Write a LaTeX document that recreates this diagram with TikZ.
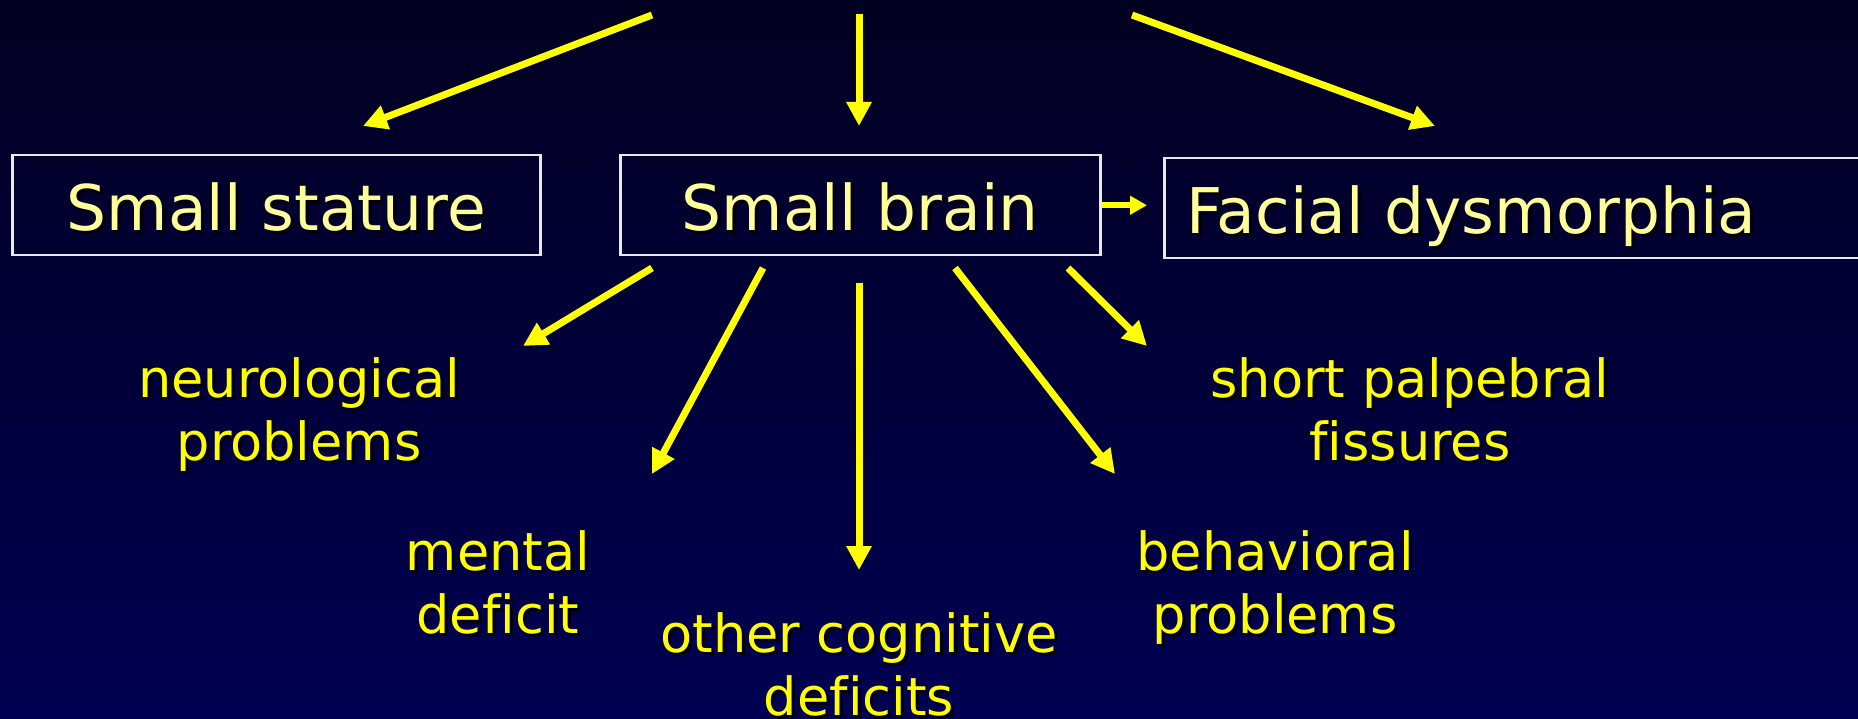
\documentclass[tikz,border=0pt]{standalone}
\usepackage{fontspec}
\setmainfont[Ligatures={NoCommon}]{DejaVu Sans}
\usetikzlibrary{arrows.meta}
\definecolor{bgtop}{RGB}{2,0,32}
\definecolor{bgbot}{RGB}{0,0,82}
\definecolor{paleyellow}{RGB}{255,255,153}
\definecolor{brightyellow}{RGB}{255,255,0}
\definecolor{boxline}{RGB}{232,232,240}
\newcommand{\shd}[1]{\leavevmode\rlap{\hspace{3pt}\raisebox{-3pt}{\color{black}#1}}#1}
\begin{document}
\begin{tikzpicture}[x=1pt,y=-1pt,
  boxstyle/.style={draw=boxline, line width=2.5pt, inner sep=0pt,
    minimum height=100pt, text=paleyellow,
    font=\fontsize{63}{75}\selectfont, text height=50pt, text depth=0pt},
  smalltext/.style={text=brightyellow, align=center, inner sep=0pt,
    font=\fontsize{52.5}{63}\selectfont, anchor=base},
  arr/.style={draw=brightyellow, line width=7pt,
    -{Triangle[length=24pt,width=24pt]}},
  arrsmall/.style={draw=brightyellow, line width=6pt,
    -{Triangle[length=17pt,width=18pt]}}]
\useasboundingbox (0,0) rectangle (1858,719);
\clip (0,0) rectangle (1858,719);
\shade[top color=bgtop, bottom color=bgbot] (0,0) rectangle (1858,719);

% boxes
\node[boxstyle, anchor=north west, minimum width=528pt] (ss) at (11,154) {\shd{Small stature}};
\node[boxstyle, anchor=north west, minimum width=480pt] (sb) at (619,154) {\shd{Small brain}};
\node[boxstyle, anchor=north west, text width=700pt, align=left, inner xsep=22pt] (fd) at (1163,157) {\shd{Facial dysmorphia}};

% top arrows
\coordinate (t1) at (652,15);  \coordinate (h1) at (363,126);
\coordinate (t2) at (859,14);  \coordinate (h2) at (859,126);
\coordinate (t3) at (1132,15); \coordinate (h3) at (1435,126);
\draw[arr] (t1) -- (h1);
\draw[arr] (t2) -- (h2);
\draw[arr] (t3) -- (h3);

% brain -> facial
\draw[arrsmall, shorten >=16pt] (sb.east) -- (sb.east -| fd.west);

% lower texts (anchor = baseline of last line)
\node[smalltext] (neu) at (299,460) {\shd{neurological}\\\shd{problems}};
\node[smalltext] (men) at (498,633) {\shd{mental}\\\shd{deficit}};
\node[smalltext] (oth) at (859,715) {\shd{other cognitive}\\\shd{deficits}};
\node[smalltext] (beh) at (1275,633) {\shd{behavioral}\\\shd{problems}};
\node[smalltext] (spf) at (1410,460) {\shd{short palpebral}\\\shd{fissures}};

% lower arrows
\coordinate (b1) at (652,268);  \coordinate (e1) at (523,346);
\coordinate (b2) at (763,268);  \coordinate (e2) at (652,474);
\coordinate (b3) at (859,283);  \coordinate (e3) at (859,570);
\coordinate (b4) at (955,268);  \coordinate (e4) at (1115,474);
\coordinate (b5) at (1068,268); \coordinate (e5) at (1147,346);
\draw[arr] (b1) -- (e1);
\draw[arr] (b2) -- (e2);
\draw[arr] (b3) -- (e3);
\draw[arr] (b4) -- (e4);
\draw[arr] (b5) -- (e5);
\end{tikzpicture}
\end{document}
